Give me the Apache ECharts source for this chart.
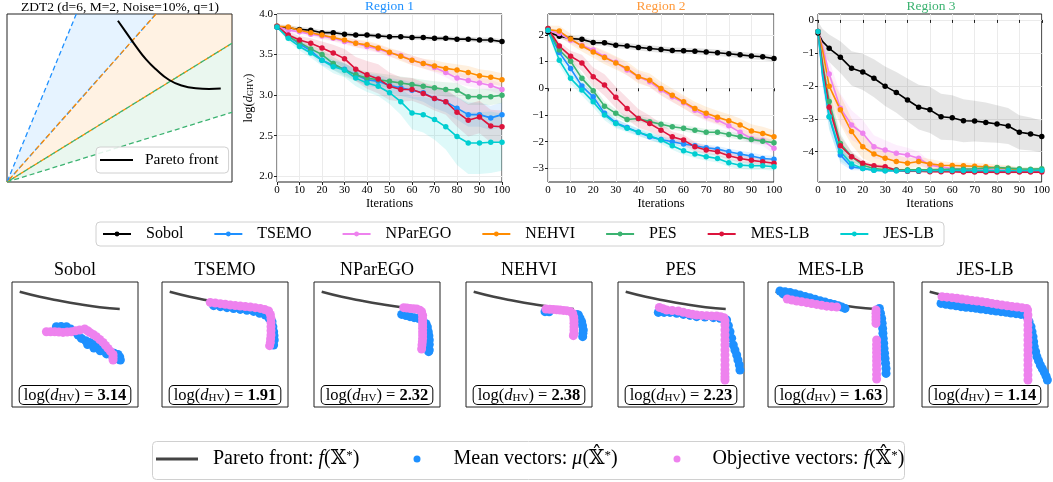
<!DOCTYPE html>
<html>
<head>
<meta charset="utf-8">
<script src="https://cdn.jsdelivr.net/npm/echarts@6.0.0/dist/echarts.min.js"></script>
<style>
  html, body { margin: 0; padding: 0; background: #fff; }
  #chart { width: 1053px; height: 482px; }
</style>
</head>
<body>
<div id="chart"></div>
<script>
var FONT = "'Liberation Serif', 'DejaVu Serif', 'DejaVu Sans', serif";

var methods = ['Sobol', 'TSEMO', 'NParEGO', 'NEHVI', 'PES', 'MES-LB', 'JES-LB'];
var colors = ['#000000', '#1e90ff', '#ee82ee', '#ff8c00', '#3cb371', '#dc143c', '#00ced1'];
var dHV = ['3.14', '1.91', '2.32', '2.38', '2.23', '1.63', '1.14'];

var iters = [0, 5, 10, 15, 20, 25, 30, 35, 40, 45, 50, 55, 60, 65, 70, 75, 80, 85, 90, 95, 100];
var iters3 = [0, 2, 5, 10, 15, 20, 25, 30, 35, 40, 45, 50, 55, 60, 65, 70, 75, 80, 85, 90, 95, 100];

// Region 1 : mean log(d_GHV) and half width of the band
var sobolR1 = [3.84, 3.83, 3.81, 3.80, 3.77, 3.77, 3.75, 3.74, 3.74, 3.73, 3.72, 3.72, 3.71, 3.71, 3.70, 3.70, 3.69, 3.69, 3.68, 3.68, 3.66];
var tsemoR1 = [3.84, 3.73, 3.63, 3.55, 3.43, 3.37, 3.32, 3.25, 3.19, 3.17, 3.12, 3.09, 3.06, 3.03, 2.96, 2.92, 2.84, 2.76, 2.76, 2.72, 2.76];
var nparegoR1 = [3.85, 3.80, 3.78, 3.75, 3.73, 3.70, 3.66, 3.64, 3.60, 3.57, 3.52, 3.49, 3.43, 3.39, 3.34, 3.28, 3.21, 3.18, 3.15, 3.12, 3.07];
var nehviR1 = [3.85, 3.84, 3.80, 3.77, 3.74, 3.71, 3.68, 3.64, 3.62, 3.58, 3.53, 3.48, 3.43, 3.39, 3.36, 3.33, 3.31, 3.28, 3.24, 3.22, 3.19];
var pesR1 = [3.85, 3.72, 3.65, 3.57, 3.50, 3.39, 3.31, 3.25, 3.21, 3.19, 3.17, 3.15, 3.13, 3.11, 3.09, 3.07, 3.06, 2.98, 2.98, 2.98, 3.00];
var mesR1 = [3.85, 3.74, 3.68, 3.64, 3.58, 3.52, 3.45, 3.32, 3.25, 3.20, 3.11, 3.07, 3.07, 3.02, 2.96, 2.92, 2.79, 2.69, 2.73, 2.62, 2.61];
var jesR1 = [3.84, 3.70, 3.60, 3.52, 3.43, 3.35, 3.31, 3.21, 3.15, 3.11, 3.03, 2.92, 2.78, 2.76, 2.70, 2.61, 2.49, 2.41, 2.41, 2.42, 2.42];
var sobolB1 = [0.03, 0.03, 0.03, 0.03, 0.03, 0.03, 0.03, 0.03, 0.03, 0.03, 0.03, 0.03, 0.03, 0.03, 0.03, 0.03, 0.03, 0.03, 0.03, 0.03, 0.03];
var tsemoB1 = [0.02, 0.04, 0.05, 0.05, 0.06, 0.06, 0.07, 0.07, 0.08, 0.08, 0.09, 0.1, 0.1, 0.11, 0.12, 0.13, 0.14, 0.15, 0.15, 0.15, 0.15];
var nparegoB1 = [0.02, 0.03, 0.03, 0.03, 0.04, 0.04, 0.04, 0.05, 0.05, 0.05, 0.05, 0.05, 0.06, 0.06, 0.06, 0.06, 0.07, 0.07, 0.07, 0.07, 0.07];
var nehviB1 = [0.02, 0.03, 0.03, 0.03, 0.04, 0.04, 0.04, 0.05, 0.05, 0.05, 0.05, 0.06, 0.06, 0.06, 0.07, 0.07, 0.07, 0.08, 0.08, 0.08, 0.08];
var pesB1 = [0.02, 0.04, 0.05, 0.05, 0.06, 0.08, 0.08, 0.08, 0.08, 0.08, 0.08, 0.08, 0.08, 0.08, 0.08, 0.09, 0.09, 0.1, 0.1, 0.1, 0.1];
var mesB1 = [0.02, 0.04, 0.05, 0.06, 0.08, 0.1, 0.12, 0.15, 0.17, 0.18, 0.17, 0.15, 0.14, 0.14, 0.15, 0.16, 0.18, 0.2, 0.2, 0.2, 0.2];
var jesB1 = [0.02, 0.04, 0.05, 0.06, 0.07, 0.08, 0.09, 0.1, 0.11, 0.12, 0.14, 0.16, 0.2, 0.22, 0.25, 0.28, 0.35, 0.38, 0.38, 0.38, 0.35];

// Region 2
var sobolR2 = [2.11, 1.95, 1.86, 1.83, 1.71, 1.70, 1.61, 1.58, 1.53, 1.49, 1.45, 1.41, 1.40, 1.39, 1.36, 1.33, 1.29, 1.25, 1.21, 1.18, 1.11];
var tsemoR2 = [2.17, 1.34, 0.74, 0.08, -0.32, -0.94, -1.29, -1.47, -1.65, -1.82, -1.92, -2.00, -2.09, -2.15, -2.23, -2.28, -2.38, -2.46, -2.54, -2.63, -2.66];
var nparegoR2 = [2.17, 2.05, 1.80, 1.61, 1.43, 1.18, 0.97, 0.68, 0.43, 0.24, -0.07, -0.32, -0.54, -0.82, -1.04, -1.19, -1.40, -1.65, -1.88, -1.95, -2.25];
var nehviR2 = [2.20, 2.14, 1.84, 1.58, 1.36, 1.15, 0.95, 0.74, 0.43, 0.30, -0.01, -0.26, -0.51, -0.76, -0.94, -1.09, -1.22, -1.38, -1.60, -1.69, -1.82];
var pesR2 = [2.24, 1.43, 1.01, 0.37, -0.09, -0.67, -0.94, -1.17, -1.13, -1.25, -1.35, -1.44, -1.50, -1.57, -1.65, -1.65, -1.73, -1.82, -1.92, -1.98, -2.04];
var mesR2 = [2.24, 1.58, 1.20, 0.95, 0.43, 0.12, -0.34, -0.76, -1.13, -1.32, -1.57, -1.82, -1.94, -2.19, -2.31, -2.38, -2.53, -2.63, -2.70, -2.75, -2.81];
var jesR2 = [2.17, 1.05, 0.37, -0.07, -0.51, -1.00, -1.32, -1.50, -1.65, -1.78, -1.94, -2.15, -2.34, -2.46, -2.56, -2.63, -2.79, -2.88, -2.90, -2.90, -2.94];
var sobolB2 = [0.1, 0.1, 0.1, 0.1, 0.11, 0.11, 0.11, 0.11, 0.12, 0.12, 0.12, 0.12, 0.12, 0.12, 0.12, 0.12, 0.12, 0.12, 0.12, 0.12, 0.12];
var tsemoB2 = [0.1, 0.15, 0.15, 0.15, 0.15, 0.15, 0.15, 0.13, 0.12, 0.12, 0.12, 0.12, 0.12, 0.12, 0.12, 0.12, 0.12, 0.12, 0.13, 0.13, 0.13];
var nparegoB2 = [0.1, 0.12, 0.12, 0.12, 0.15, 0.18, 0.2, 0.2, 0.2, 0.2, 0.2, 0.2, 0.2, 0.2, 0.2, 0.18, 0.18, 0.18, 0.2, 0.2, 0.22];
var nehviB2 = [0.15, 0.2, 0.2, 0.2, 0.22, 0.25, 0.25, 0.25, 0.25, 0.25, 0.25, 0.25, 0.25, 0.25, 0.25, 0.25, 0.25, 0.25, 0.25, 0.25, 0.25];
var pesB2 = [0.1, 0.15, 0.15, 0.18, 0.18, 0.18, 0.15, 0.12, 0.12, 0.12, 0.12, 0.12, 0.12, 0.12, 0.12, 0.12, 0.12, 0.12, 0.12, 0.12, 0.12];
var mesB2 = [0.1, 0.15, 0.2, 0.3, 0.35, 0.4, 0.4, 0.4, 0.35, 0.3, 0.25, 0.2, 0.2, 0.18, 0.15, 0.15, 0.15, 0.15, 0.15, 0.15, 0.15];
var jesB2 = [0.1, 0.2, 0.2, 0.2, 0.2, 0.2, 0.18, 0.15, 0.15, 0.15, 0.15, 0.15, 0.15, 0.15, 0.15, 0.15, 0.15, 0.15, 0.15, 0.15, 0.15];

// Region 3 (uses iters3)
var sobolR3 = [-0.40, -0.65, -0.86, -1.13, -1.47, -1.58, -1.77, -2.01, -2.20, -2.43, -2.65, -2.73, -2.94, -2.97, -3.06, -3.07, -3.11, -3.16, -3.22, -3.41, -3.46, -3.54];
var tsemoR3 = [-0.35, -1.7, -2.94, -4.10, -4.46, -4.51, -4.56, -4.58, -4.58, -4.59, -4.59, -4.59, -4.59, -4.59, -4.59, -4.59, -4.59, -4.59, -4.59, -4.59, -4.59, -4.58];
var nparegoR3 = [-0.35, -0.8, -1.64, -2.68, -3.19, -3.44, -3.85, -3.95, -4.05, -4.10, -4.20, -4.41, -4.46, -4.51, -4.53, -4.54, -4.54, -4.56, -4.56, -4.58, -4.58, -4.58];
var nehviR3 = [-0.35, -0.9, -2.01, -2.73, -3.39, -3.85, -4.07, -4.20, -4.30, -4.35, -4.30, -4.37, -4.41, -4.42, -4.43, -4.44, -4.46, -4.49, -4.51, -4.56, -4.56, -4.56];
var pesR3 = [-0.35, -1.3, -2.48, -3.75, -4.15, -4.41, -4.51, -4.54, -4.55, -4.55, -4.55, -4.55, -4.54, -4.53, -4.53, -4.52, -4.50, -4.48, -4.50, -4.52, -4.53, -4.52];
var mesR3 = [-0.35, -1.4, -2.65, -3.82, -4.15, -4.35, -4.43, -4.46, -4.56, -4.59, -4.59, -4.61, -4.61, -4.61, -4.62, -4.62, -4.62, -4.62, -4.62, -4.62, -4.62, -4.62];
var jesR3 = [-0.35, -1.6, -2.94, -4.00, -4.37, -4.51, -4.56, -4.58, -4.58, -4.58, -4.58, -4.58, -4.57, -4.57, -4.57, -4.57, -4.57, -4.57, -4.57, -4.57, -4.57, -4.56];
var sobolB3 = [0.35, 0.38, 0.42, 0.48, 0.52, 0.55, 0.58, 0.6, 0.62, 0.65, 0.68, 0.7, 0.7, 0.68, 0.65, 0.62, 0.6, 0.57, 0.55, 0.52, 0.5, 0.48];
var tsemoB3 = [0.08, 0.3, 0.35, 0.25, 0.1, 0.05, 0.04, 0.03, 0.03, 0.03, 0.03, 0.03, 0.03, 0.03, 0.03, 0.03, 0.03, 0.03, 0.03, 0.03, 0.03, 0.03];
var nparegoB3 = [0.08, 0.3, 0.4, 0.45, 0.45, 0.4, 0.35, 0.3, 0.25, 0.22, 0.2, 0.12, 0.08, 0.06, 0.05, 0.05, 0.05, 0.05, 0.05, 0.05, 0.05, 0.05];
var nehviB3 = [0.08, 0.3, 0.4, 0.45, 0.4, 0.35, 0.3, 0.25, 0.2, 0.16, 0.15, 0.15, 0.12, 0.1, 0.1, 0.1, 0.1, 0.1, 0.1, 0.08, 0.08, 0.08];
var pesB3 = [0.08, 0.3, 0.4, 0.3, 0.15, 0.08, 0.05, 0.05, 0.05, 0.05, 0.05, 0.05, 0.05, 0.05, 0.05, 0.05, 0.05, 0.05, 0.05, 0.05, 0.05, 0.05];
var mesB3 = [0.08, 0.3, 0.4, 0.3, 0.15, 0.1, 0.06, 0.05, 0.04, 0.04, 0.04, 0.04, 0.04, 0.04, 0.04, 0.04, 0.04, 0.04, 0.04, 0.04, 0.04, 0.04];
var jesB3 = [0.08, 0.3, 0.4, 0.3, 0.12, 0.06, 0.04, 0.03, 0.03, 0.03, 0.03, 0.03, 0.03, 0.03, 0.03, 0.03, 0.03, 0.03, 0.03, 0.03, 0.03, 0.03];

var yTicks1 = [2.0, 2.5, 3.0, 3.5, 4.0];
var yTicks2 = [-3, -2, -1, 0, 1, 2];
var yTicks3 = [-4, -3, -2, -1, 0];

// ZDT2 sketch (unit box): cone edges from the origin and the Pareto front
var coneEdges = [[0.308, 1], [0.662, 1], [1, 0.826], [1, 0.415]];
var zdtFront = [[0.493, 0.96], [0.53, 0.889], [0.574, 0.806], [0.618, 0.73], [0.662, 0.671], [0.721, 0.607],
  [0.78, 0.573], [0.839, 0.558], [0.898, 0.554], [0.95, 0.556]];

// small panels (unit box)
var panelFront = [[0.061, 0.922], [0.22, 0.882], [0.379, 0.85], [0.537, 0.822], [0.696, 0.798], [0.855, 0.784]];

var sobolMu = [[0.352, 0.643], [0.39, 0.645], [0.432, 0.643], [0.465, 0.625], [0.498, 0.602], [0.525, 0.575], [0.551, 0.549],
  [0.585, 0.53], [0.617, 0.517], [0.655, 0.5], [0.696, 0.483], [0.735, 0.463], [0.775, 0.443], [0.81, 0.43], [0.841, 0.421],
  [0.855, 0.4], [0.86, 0.376], [0.6, 0.5], [0.65, 0.472], [0.7, 0.45], [0.75, 0.425], [0.8, 0.4], [0.84, 0.385]];
var sobolF = [[0.273, 0.602], [0.306, 0.602], [0.339, 0.602], [0.372, 0.6], [0.405, 0.597], [0.438, 0.6], [0.471, 0.602],
  [0.504, 0.61], [0.537, 0.616], [0.577, 0.624], [0.6, 0.61], [0.617, 0.597], [0.645, 0.58], [0.67, 0.563], [0.696, 0.54],
  [0.722, 0.517], [0.742, 0.493], [0.762, 0.469], [0.782, 0.445], [0.802, 0.421], [0.802, 0.398], [0.802, 0.376]];

var tsemoMu = [[0.41, 0.811], [0.463, 0.803], [0.516, 0.795], [0.568, 0.788], [0.621, 0.781], [0.674, 0.774], [0.727, 0.765],
  [0.775, 0.75], [0.82, 0.736], [0.85, 0.71], [0.873, 0.683], [0.88, 0.643], [0.886, 0.603], [0.889, 0.57], [0.891, 0.536], [0.886, 0.496]];
var tsemoF = [[0.383, 0.837], [0.423, 0.832], [0.463, 0.827], [0.502, 0.822], [0.542, 0.816], [0.581, 0.812], [0.621, 0.808],
  [0.661, 0.804], [0.701, 0.8], [0.74, 0.795], [0.78, 0.789], [0.815, 0.78], [0.846, 0.768], [0.86, 0.74], [0.865, 0.709],
  [0.865, 0.676], [0.865, 0.643], [0.865, 0.61], [0.865, 0.576], [0.862, 0.546], [0.86, 0.517], [0.854, 0.491]];

var nparegoMu = [[0.696, 0.741], [0.73, 0.732], [0.762, 0.723], [0.795, 0.715], [0.828, 0.709], [0.86, 0.69], [0.889, 0.667],
  [0.9, 0.64], [0.907, 0.603], [0.912, 0.57], [0.915, 0.536], [0.915, 0.5], [0.915, 0.456], [0.91, 0.443]];
var nparegoF = [[0.712, 0.795], [0.737, 0.792], [0.762, 0.789], [0.789, 0.787], [0.815, 0.784], [0.84, 0.775], [0.854, 0.763],
  [0.862, 0.735], [0.862, 0.709], [0.862, 0.682], [0.862, 0.656], [0.862, 0.63], [0.862, 0.603], [0.862, 0.576], [0.862, 0.549],
  [0.86, 0.522], [0.857, 0.496], [0.854, 0.464]];

var nehviMu = [[0.627, 0.763], [0.66, 0.762], [0.878, 0.741], [0.892, 0.736], [0.905, 0.71], [0.918, 0.683], [0.925, 0.65],
  [0.931, 0.616], [0.928, 0.59], [0.926, 0.563]];
var nehviF = [[0.635, 0.784], [0.664, 0.782], [0.693, 0.781], [0.72, 0.778], [0.746, 0.776], [0.773, 0.773], [0.799, 0.771],
  [0.825, 0.765], [0.847, 0.749], [0.855, 0.72], [0.857, 0.696], [0.857, 0.67], [0.857, 0.643], [0.857, 0.616], [0.857, 0.589], [0.852, 0.571]];

var pesMu = [[0.32, 0.757], [0.366, 0.757], [0.413, 0.757], [0.466, 0.75], [0.519, 0.741], [0.572, 0.733], [0.624, 0.723],
  [0.69, 0.72], [0.757, 0.715], [0.81, 0.71], [0.862, 0.696], [0.876, 0.65], [0.889, 0.603], [0.902, 0.55], [0.915, 0.496],
  [0.928, 0.456], [0.942, 0.416], [0.952, 0.376], [0.963, 0.336], [0.968, 0.296]];
var pesF = [[0.328, 0.797], [0.357, 0.787], [0.386, 0.776], [0.43, 0.772], [0.479, 0.768], [0.518, 0.758], [0.558, 0.749],
  [0.59, 0.742], [0.624, 0.736], [0.664, 0.733], [0.704, 0.731], [0.743, 0.729], [0.783, 0.728], [0.815, 0.722], [0.841, 0.715],
  [0.849, 0.69], [0.849, 0.656], [0.849, 0.616], [0.849, 0.576], [0.849, 0.536], [0.849, 0.496], [0.849, 0.456], [0.849, 0.416],
  [0.849, 0.376], [0.849, 0.336], [0.849, 0.3], [0.849, 0.269], [0.849, 0.24], [0.849, 0.216]];

var mesMu = [[0.095, 0.928], [0.135, 0.922], [0.175, 0.917], [0.215, 0.906], [0.254, 0.896], [0.294, 0.885], [0.333, 0.875],
  [0.373, 0.863], [0.413, 0.851], [0.452, 0.84], [0.492, 0.829], [0.525, 0.82], [0.558, 0.811], [0.585, 0.8], [0.611, 0.789],
  [0.12, 0.905], [0.16, 0.9], [0.2, 0.89],
  [0.884, 0.789], [0.893, 0.75], [0.902, 0.709], [0.906, 0.67], [0.91, 0.629], [0.912, 0.59], [0.915, 0.549], [0.918, 0.51],
  [0.921, 0.469], [0.925, 0.43], [0.929, 0.389], [0.933, 0.35], [0.937, 0.309], [0.937, 0.269]];
var mesF = [[0.153, 0.864], [0.19, 0.856], [0.228, 0.848], [0.267, 0.842], [0.307, 0.835], [0.346, 0.828], [0.386, 0.821],
  [0.426, 0.814], [0.466, 0.807], [0.505, 0.803], [0.545, 0.8],
  [0.857, 0.776], [0.857, 0.75], [0.857, 0.723], [0.857, 0.696], [0.857, 0.669],
  [0.862, 0.536], [0.862, 0.5], [0.862, 0.469], [0.862, 0.436], [0.862, 0.403], [0.862, 0.37], [0.862, 0.336], [0.862, 0.3],
  [0.862, 0.26], [0.862, 0.224]];

var jesMu = [[0.151, 0.829], [0.19, 0.822], [0.23, 0.816], [0.27, 0.81], [0.309, 0.803], [0.349, 0.798], [0.389, 0.795],
  [0.428, 0.79], [0.468, 0.784], [0.508, 0.779], [0.548, 0.773], [0.588, 0.768], [0.627, 0.763], [0.667, 0.758], [0.706, 0.752],
  [0.746, 0.747], [0.786, 0.741], [0.833, 0.723], [0.85, 0.683], [0.865, 0.643], [0.873, 0.603], [0.881, 0.563], [0.886, 0.523],
  [0.891, 0.483], [0.902, 0.443], [0.912, 0.403], [0.925, 0.37], [0.939, 0.336], [0.955, 0.306], [0.971, 0.277], [0.985, 0.247], [0.995, 0.216]];
var jesF = [[0.159, 0.883], [0.198, 0.879], [0.238, 0.875], [0.278, 0.87], [0.317, 0.864], [0.357, 0.858], [0.397, 0.853],
  [0.436, 0.848], [0.476, 0.843], [0.516, 0.836], [0.555, 0.829], [0.595, 0.822], [0.635, 0.816], [0.675, 0.81], [0.714, 0.805],
  [0.754, 0.8], [0.793, 0.795], [0.83, 0.788], [0.838, 0.776], [0.841, 0.736], [0.841, 0.696], [0.841, 0.656], [0.841, 0.616],
  [0.841, 0.576], [0.841, 0.536], [0.841, 0.496], [0.841, 0.456], [0.841, 0.416], [0.841, 0.376], [0.841, 0.336], [0.841, 0.296],
  [0.841, 0.256], [0.841, 0.216]];

var panelMu = [sobolMu, tsemoMu, nparegoMu, nehviMu, pesMu, mesMu, jesMu];
var panelF = [sobolF, tsemoF, nparegoF, nehviF, pesF, mesF, jesF];

// ---------------- layout ----------------
var grids = [
  { left: 7, top: 14, width: 225, height: 168 },
  { left: 277, top: 14, width: 225, height: 168 },
  { left: 548, top: 14, width: 226, height: 168 },
  { left: 818, top: 14, width: 226, height: 168 }
];
var panelLefts = [12, 162, 314, 466, 618, 768, 922];
panelLefts.forEach(function (l) { grids.push({ left: l, top: 282, width: 126, height: 125 }); });
grids.forEach(function (g) { g.show = true; g.borderColor = '#222'; g.borderWidth = 1; });

var xAxes = [], yAxes = [];
function hiddenAxes(gi) {
  xAxes.push({ gridIndex: gi, type: 'value', min: 0, max: 1, show: false });
  yAxes.push({ gridIndex: gi, type: 'value', min: 0, max: 1, show: false });
}
function minusFmt(v) { return (v < 0 ? '\u2212' : '') + Math.abs(v); }
function regionAxes(gi, ymin, ymax, ticks, fmt, yname) {
  xAxes.push({
    gridIndex: gi, type: 'value', min: 0, max: 100, interval: 10,
    axisLine: { show: false },
    axisTick: { length: 3, lineStyle: { color: '#222' } },
    axisLabel: { fontFamily: FONT, fontSize: 11, color: '#000', margin: 3 },
    splitLine: { lineStyle: { color: '#ebebeb' } },
    name: 'Iterations', nameLocation: 'middle', nameGap: 15,
    nameTextStyle: { fontFamily: FONT, fontSize: 12.5, color: '#000' }
  });
  var y = {
    gridIndex: gi, type: 'value', min: ymin, max: ymax,
    axisLine: { show: false },
    axisTick: { length: 3, customValues: ticks, lineStyle: { color: '#222' } },
    axisLabel: { customValues: ticks, formatter: fmt, fontFamily: FONT, fontSize: 11, color: '#000', margin: 4 },
    splitLine: { lineStyle: { color: '#ebebeb' } }
  };
  if (yname) {
    y.name = yname;
    y.nameLocation = 'middle';
    y.nameGap = 21;
    y.nameTextStyle = {
      rich: {
        n: { fontFamily: FONT, fontSize: 12.5, color: '#000' },
        i: { fontFamily: FONT, fontSize: 12.5, fontStyle: 'italic', color: '#000' },
        s: { fontFamily: FONT, fontSize: 8.5, color: '#000', verticalAlign: 'bottom' }
      }
    };
  }
  yAxes.push(y);
}

hiddenAxes(0);
regionAxes(1, 1.93, 4.0, yTicks1, function (v) { return v.toFixed(1); }, '{n|log(}{i|d}{s|GHV}{n|)}');
regionAxes(2, -3.51, 2.78, yTicks2, minusFmt, null);
regionAxes(3, -4.92, 0.18, yTicks3, minusFmt, null);
for (var p = 0; p < 7; p++) hiddenAxes(4 + p);

// ---------------- series ----------------
var series = [];
function polygon(gi, pts, color, opacity) {
  series.push({
    type: 'custom', xAxisIndex: gi, yAxisIndex: gi, silent: true, z: 1,
    data: pts,
    renderItem: function (params, api) {
      if (params.dataIndex !== 0) return null;
      return {
        type: 'polygon',
        shape: { points: pts.map(function (d) { return api.coord(d); }) },
        style: { fill: color, opacity: opacity }
      };
    }
  });
}

// ZDT2 cones
var origin = [0, 0];
polygon(0, [origin, coneEdges[0], coneEdges[1]], '#1e90ff', 0.11);
polygon(0, [origin, coneEdges[1], [1, 1], coneEdges[2]], '#ff8c00', 0.11);
polygon(0, [origin, coneEdges[2], coneEdges[3]], '#3cb371', 0.11);
[[coneEdges[0], origin, coneEdges[1], '#1e90ff'],
 [coneEdges[1], origin, coneEdges[2], '#ff8c00'],
 [coneEdges[2], origin, coneEdges[3], '#3cb371']].forEach(function (r) {
  series.push({
    type: 'line', xAxisIndex: 0, yAxisIndex: 0, data: [r[0], r[1], r[2]], symbol: 'none', silent: true, z: 2,
    lineStyle: { color: r[3], width: 1.3, type: [5, 3] }
  });
});
series.push({
  type: 'line', name: 'Pareto front', xAxisIndex: 0, yAxisIndex: 0, data: zdtFront, smooth: true,
  symbol: 'none', z: 3, lineStyle: { color: '#000', width: 2 }, itemStyle: { color: '#000' }
});

function regionSeries(gi, xs, means, bands) {
  means.forEach(function (m, k) {
    var up = xs.map(function (x, i) { return [x, m[i] + bands[k][i]]; });
    var lo = xs.map(function (x, i) { return [x, m[i] - bands[k][i]]; }).reverse();
    polygon(gi, up.concat(lo), colors[k], k === 0 ? 0.1 : 0.13);
  });
  means.forEach(function (m, k) {
    series.push({
      type: 'line', name: methods[k], xAxisIndex: gi, yAxisIndex: gi,
      data: xs.map(function (x, i) { return [x, m[i]]; }),
      symbol: 'circle', showAllSymbol: true,
      symbolSize: function (v) { return v[0] % 5 === 0 ? 5.5 : 0; },
      lineStyle: { width: 1.6, color: colors[k] }, itemStyle: { color: colors[k] }, z: 3
    });
  });
}
regionSeries(1, iters, [sobolR1, tsemoR1, nparegoR1, nehviR1, pesR1, mesR1, jesR1],
  [sobolB1, tsemoB1, nparegoB1, nehviB1, pesB1, mesB1, jesB1]);
regionSeries(2, iters, [sobolR2, tsemoR2, nparegoR2, nehviR2, pesR2, mesR2, jesR2],
  [sobolB2, tsemoB2, nparegoB2, nehviB2, pesB2, mesB2, jesB2]);
regionSeries(3, iters3, [sobolR3, tsemoR3, nparegoR3, nehviR3, pesR3, mesR3, jesR3],
  [sobolB3, tsemoB3, nparegoB3, nehviB3, pesB3, mesB3, jesB3]);

for (var q = 0; q < 7; q++) {
  var gi = 4 + q;
  series.push({
    type: 'line', name: 'front', xAxisIndex: gi, yAxisIndex: gi, data: panelFront, smooth: true,
    symbol: 'none', z: 2, lineStyle: { color: '#444', width: 2.5 }, itemStyle: { color: '#444' }
  });
  series.push({
    type: 'scatter', name: 'mu', xAxisIndex: gi, yAxisIndex: gi, data: panelMu[q],
    symbolSize: 9, z: 3, itemStyle: { color: '#1e90ff', opacity: 1 }
  });
  series.push({
    type: 'scatter', name: 'obj', xAxisIndex: gi, yAxisIndex: gi, data: panelF[q],
    symbolSize: 9, z: 4, itemStyle: { color: '#ee82ee', opacity: 1 }
  });
}

// ---------------- texts ----------------
var graphics = [];
function text(x, y, str, size, color, extra) {
  var st = { text: str, x: x, y: y, align: 'center', verticalAlign: 'middle',
    fontFamily: FONT, fontSize: size, fill: color };
  if (extra) for (var k in extra) st[k] = extra[k];
  graphics.push({ type: 'text', silent: true, z: 100, style: st });
}
text(120, 7, 'ZDT2 (d=6, M=2, Noise=10%, q=1)', 13.5, '#000');
text(389.5, 6, 'Region 1', 13.5, '#1e90ff');
text(661, 6, 'Region 2', 13.5, '#ff9a3c');
text(931, 6, 'Region 3', 13.5, '#3cb371');
var hvRich = {
  n: { fontFamily: FONT, fontSize: 16.5, fill: '#000' },
  i: { fontFamily: FONT, fontSize: 16.5, fontStyle: 'italic', fill: '#000' },
  s: { fontFamily: FONT, fontSize: 11, fill: '#000', verticalAlign: 'bottom' },
  b: { fontFamily: FONT, fontSize: 16.5, fontWeight: 'bold', fill: '#000' }
};
panelLefts.forEach(function (l, k) {
  text(l + 63, 270, methods[k], 18, '#000');
  text(l + 63, 395, '{n|log(}{i|d}{s|HV}{n|) = }{b|' + dHV[k] + '}', 16.5, '#000', {
    rich: hvRich, backgroundColor: '#fff', borderColor: '#000', borderWidth: 1, borderRadius: 4, padding: [1, 4, 0, 4]
  });
});
// frame of the bottom legend
graphics.push({
  type: 'rect', silent: true, z: 0,
  shape: { x: 152.5, y: 441.5, width: 752, height: 38, r: 4 },
  style: { fill: '#fff', stroke: '#d0d0d0', lineWidth: 1 }
});

// ---------------- legends ----------------
var bottomRich = {
  t: { fontFamily: FONT, fontSize: 20, color: '#000' },
  i: { fontFamily: FONT, fontSize: 20, fontStyle: 'italic', color: '#000' },
  u: { fontFamily: FONT, fontSize: 13, color: '#000', verticalAlign: 'top' }
};
function bottomLegend(item, left, itemWidth, gap, label) {
  var rich = { g: { width: gap } };
  for (var k in bottomRich) rich[k] = bottomRich[k];
  return {
    data: [item], left: left, top: 449, itemWidth: itemWidth, itemHeight: 7, padding: 0,
    formatter: function () { return '{g|}' + label; },
    textStyle: { rich: rich }
  };
}

var option = {
  animation: false,
  backgroundColor: '#fff',
  grid: grids,
  xAxis: xAxes,
  yAxis: yAxes,
  series: series,
  graphic: graphics,
  legend: [
    {
      data: [{ name: 'Pareto front', icon: 'path://M0,0L33,0L33,2L0,2Z' }],
      left: 96, top: 147, itemWidth: 33, itemHeight: 8, padding: [5, 10, 5, 4],
      backgroundColor: 'rgba(255,255,255,0.85)', borderColor: '#d0d0d0', borderWidth: 1, borderRadius: 4,
      formatter: function (n) { return '{g|}{t|' + n + '}'; },
      textStyle: { rich: { g: { width: 7 }, t: { fontFamily: FONT, fontSize: 15.5, color: '#000' } } }
    },
    {
      data: methods, left: 96, top: 222, itemWidth: 28, itemHeight: 6, itemGap: 30, padding: [4, 10, 4, 6],
      borderColor: '#d0d0d0', borderWidth: 1, borderRadius: 4,
      formatter: function (n) { return '{g|}{t|' + n + '}'; },
      textStyle: { rich: { g: { width: 10 }, t: { fontFamily: FONT, fontSize: 16, color: '#000' } } }
    },
    bottomLegend({ name: 'front', icon: 'path://M0,0L42,0L42,3L0,3Z' }, 156, 42, 10,
      '{t|Pareto front: }{i|f}{t|(\u{1D54F}}{u|*}{t|)}'),
    bottomLegend({ name: 'mu', icon: 'circle' }, 413.5, 7, 28,
      '{t|Mean vectors: }{i|\u03bc}{t|(\u{1D54F}\u0302}{u|*}{t|)}'),
    bottomLegend({ name: 'obj', icon: 'circle' }, 673.5, 7, 27,
      '{t|Objective vectors: }{i|f}{t|(\u{1D54F}\u0302}{u|*}{t|)}')
  ]
};

var chart = echarts.init(document.getElementById('chart'), null, { renderer: 'canvas' });
chart.setOption(option);
</script>
</body>
</html>
